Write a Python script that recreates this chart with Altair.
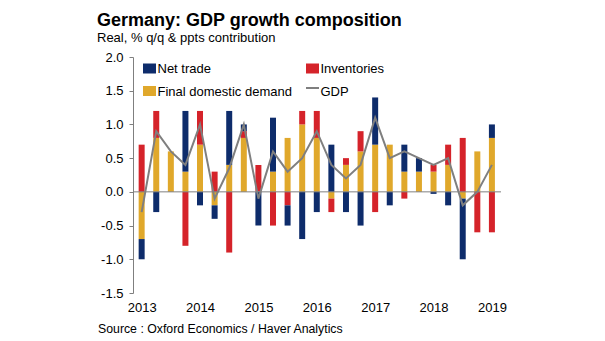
import altair as alt
import pandas as pd

FONT = "Liberation Sans, Arial, sans-serif"

# ---- data ----
quarters = ["2013Q1", "2013Q2", "2013Q3", "2013Q4",
            "2014Q1", "2014Q2", "2014Q3", "2014Q4",
            "2015Q1", "2015Q2", "2015Q3", "2015Q4",
            "2016Q1", "2016Q2", "2016Q3", "2016Q4",
            "2017Q1", "2017Q2", "2017Q3", "2017Q4",
            "2018Q1", "2018Q2", "2018Q3", "2018Q4",
            "2019Q1"]
year_labels = ["2013", "2014", "2015", "2016", "2017", "2018", "2019"]
y_ticks = [-1.5, -1.0, -0.5, 0.0, 0.5, 1.0, 1.5, 2.0]

final_domestic_demand = [-0.7, 0.8, 0.6, 0.3, 0.7, -0.2, 0.4, 0.8, 0.0, 0.3, 0.8, 1.0, 0.8,
                         -0.1, 0.4, 0.6, 0.7, 0.7, 0.3, 0.3, 0.3, 0.4, -0.1, 0.6, 0.8]
inventories = [0.7, 0.4, 0.0, -0.8, 0.5, 0.3, -0.9, 0.1, 0.4, -0.5, -0.2, 0.2, 0.4,
               -0.2, 0.1, 0.3, -0.3, 0.0, -0.1, 0.0, 0.1, 0.3, 0.8, -0.6, -0.6]
net_trade = [-0.3, -0.3, 0.0, 0.9, -0.2, -0.2, 0.8, 0.1, -0.5, 0.8, -0.3, -0.7, -0.3,
             0.7, -0.3, -0.5, 0.7, -0.2, 0.4, 0.2, -0.03, -0.2, -0.9, 0.0, 0.2]
gdp = [-0.3, 0.9, 0.6, 0.4, 1.0, -0.1, 0.35, 1.0, -0.1, 0.6, 0.3, 0.5, 0.9,
       0.4, 0.2, 0.4, 1.1, 0.5, 0.6, 0.5, 0.4, 0.5, -0.2, 0.0, 0.4]

series_names = ["Net trade", "Inventories", "Final domestic demand"]
series_colors = ["#0e2c6b", "#d5232a", "#e0a82b"]
gdp_name = "GDP"
gdp_color = "#7f7f7f"

title_text = "Germany: GDP growth composition"
subtitle_text = "Real, % q/q & ppts contribution"
source_text = "Source : Oxford Economics / Haver Analytics"

# ---- tables ----
rows = []
for order, (name, vals) in enumerate([("Final domestic demand", final_domestic_demand),
                                       ("Inventories", inventories),
                                       ("Net trade", net_trade)]):
    for i, (q, v) in enumerate(zip(quarters, vals)):
        rows.append({"i": i, "quarter": q, "series": name, "value": v, "ord": order})
bars_df = pd.DataFrame(rows)
gdp_df = pd.DataFrame({"i": list(range(len(quarters))), "quarter": quarters, "gdp": gdp})

W, H = 368, 236
xscale = alt.Scale(domain=[-0.25, 24.28], nice=False, zero=False)
yscale = alt.Scale(domain=[-1.5, 2.0], nice=False, zero=False)

year_array = "[" + ",".join(f"'{y}'" for y in year_labels) + "]"
x_axis = alt.Axis(values=[0, 4, 8, 12, 16, 20, 24],
                  labelExpr=f"{year_array}[round(datum.value/4)]",
                  domain=False, ticks=False, grid=False, title=None,
                  labelFont=FONT, labelFontSize=13, labelColor="black",
                  labelPadding=8, labelOverlap=False, labelFlush=False)
y_axis = alt.Axis(values=y_ticks, format=".1f",
                  grid=False, title=None, domainColor="#7f7f7f", tickColor="#7f7f7f",
                  tickSize=4, labelPadding=6, labelFont=FONT, labelFontSize=13,
                  labelColor="black", labelOverlap=False, labelFlush=False,
                  labelBound=False)

bars = alt.Chart(bars_df).mark_bar(size=6).encode(
    x=alt.X("i:Q", scale=xscale, axis=x_axis),
    y=alt.Y("value:Q", scale=yscale, axis=y_axis, stack="zero"),
    color=alt.Color("series:N", scale=alt.Scale(domain=series_names, range=series_colors), legend=None),
    order=alt.Order("ord:Q", sort="ascending"),
)

zero_rule = alt.Chart(pd.DataFrame({"z": [0.0]})).mark_rule(color="#808080", strokeWidth=1).encode(
    y=alt.Y("z:Q", scale=yscale, axis=y_axis)
)

line = alt.Chart(gdp_df).mark_line(color=gdp_color, strokeWidth=2).encode(
    x=alt.X("i:Q", scale=xscale, axis=x_axis),
    y=alt.Y("gdp:Q", scale=yscale, axis=y_axis),
)

one = pd.DataFrame({"a": [0]})

# ---- legend (drawn by hand in pixel space) ----
legend_layers = []
col_x = [10, 173]
row_y = [11.5, 34]
legend_items = [("Net trade", series_colors[0], 0, 0, "rect"),
                ("Inventories", series_colors[1], 1, 0, "rect"),
                ("Final domestic demand", series_colors[2], 0, 1, "rect"),
                (gdp_name, gdp_color, 1, 1, "line")]
for label, color, c, r, kind in legend_items:
    x0 = col_x[c]
    yc = row_y[r]
    if kind == "rect":
        legend_layers.append(alt.Chart(one).mark_rect(color=color).encode(
            x=alt.value(x0), x2=alt.value(x0 + 13), y=alt.value(yc - 5), y2=alt.value(yc + 5)))
    else:
        legend_layers.append(alt.Chart(one).mark_rule(color=color, strokeWidth=2).encode(
            x=alt.value(x0), x2=alt.value(x0 + 13), y=alt.value(yc - 3)))
    legend_layers.append(alt.Chart(pd.DataFrame({"t": [label]})).mark_text(
        align="left", baseline="alphabetic", font=FONT, fontSize=13, color="black").encode(
        text="t:N", x=alt.value(x0 + 14.5), y=alt.value(yc + 4.5)))

# ---- titles and source ----
def text_layer(txt, x, y, size, weight="normal"):
    return alt.Chart(pd.DataFrame({"t": [txt]})).mark_text(
        align="left", baseline="alphabetic", font=FONT, fontSize=size,
        fontWeight=weight, color="black").encode(
        text="t:N", x=alt.value(x), y=alt.value(y))

titles = [text_layer(title_text, -36, -31, 18, "bold"),
          text_layer(subtitle_text, -36, -15.3, 13),
          text_layer(source_text, -35, 275.5, 12.3)]

chart = alt.layer(bars, zero_rule, line, *legend_layers, *titles).properties(
    width=W, height=H,
    autosize=alt.AutoSizeParams(type="none"),
    padding={"left": 133, "top": 57, "right": 605 - 133 - W, "bottom": 341 - 57 - H},
    background="white",
).configure_view(stroke=None).configure_axis(labelOverlap=False)

chart.save("out.html", embed_options={
    "renderer": "svg", "actions": False,
    "formatLocale": {"decimal": ".", "thousands": ",", "grouping": [3],
                     "currency": ["$", ""], "minus": "-"},
})
